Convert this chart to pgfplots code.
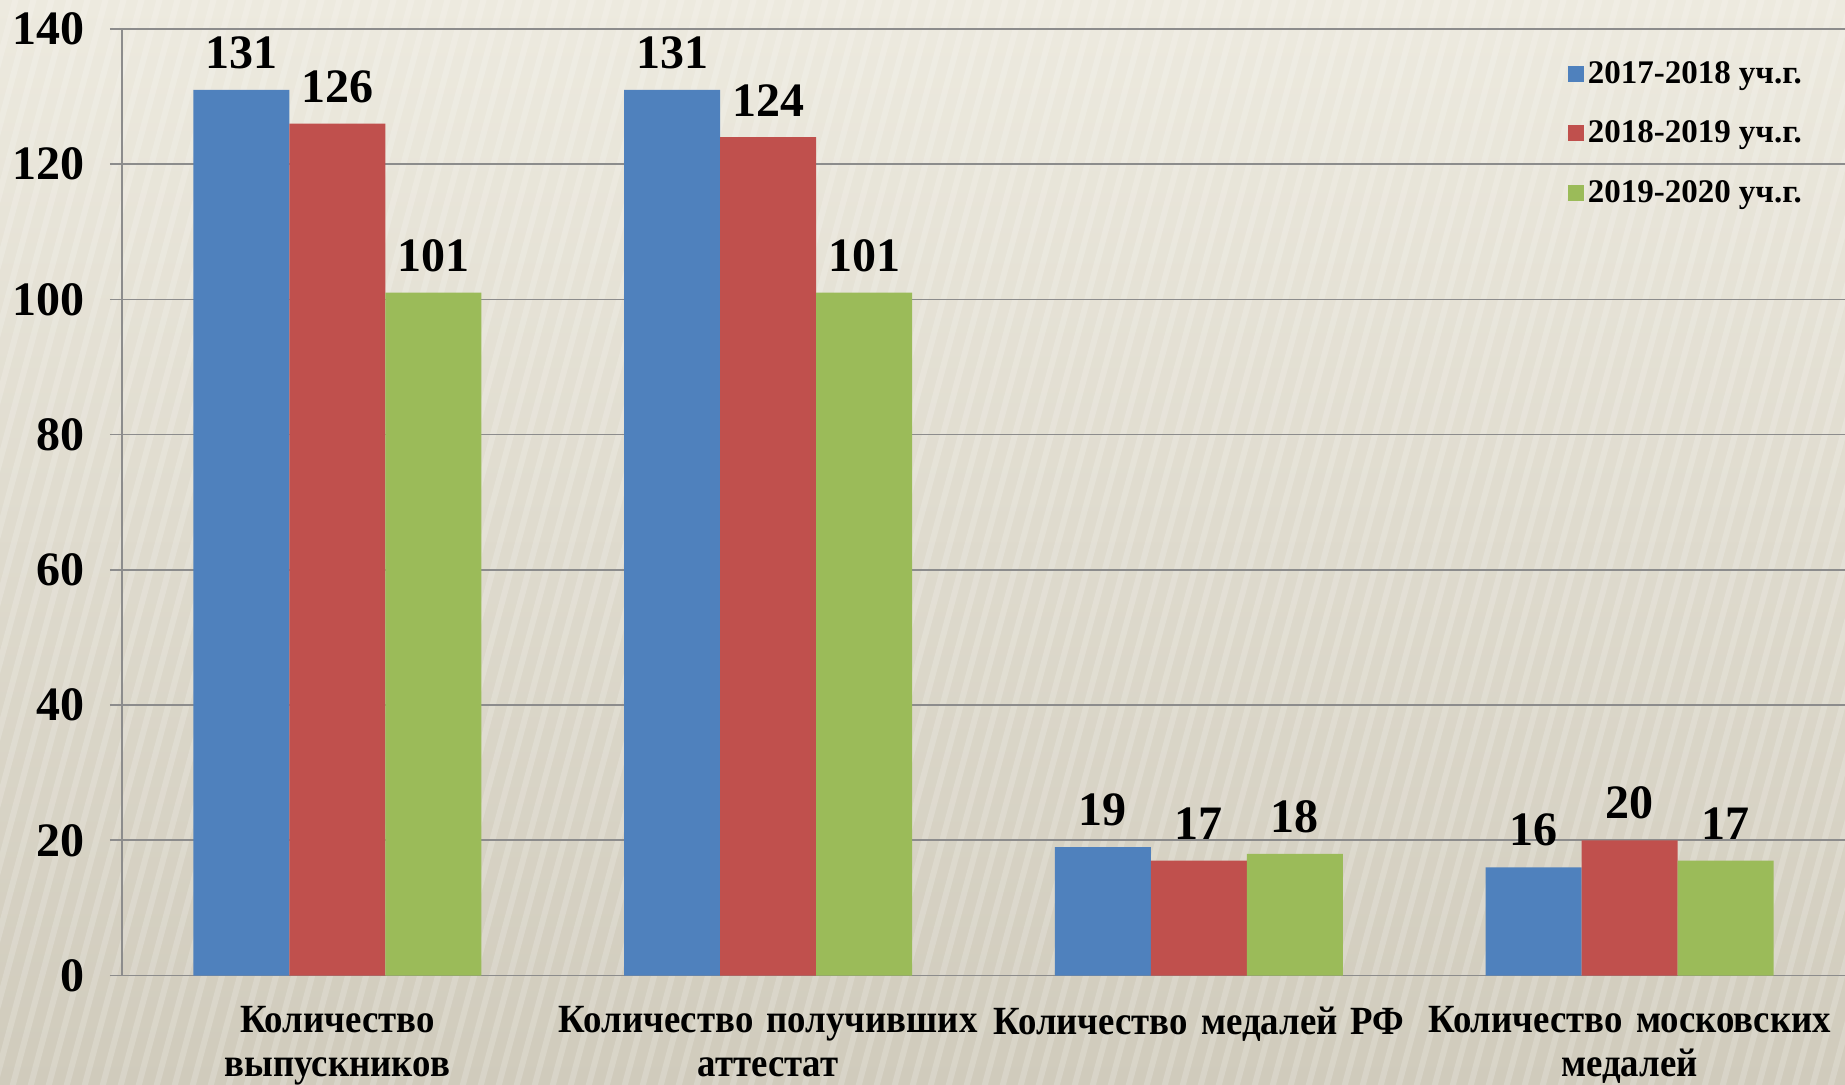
\documentclass[border=0pt]{standalone}
\usepackage{pgfplots}
\pgfplotsset{compat=1.18}
\usepackage{fontspec}
\setmainfont{Liberation Serif}
\newfontfamily\narrowfont[FakeStretch=0.92]{Liberation Serif}
\definecolor{sBlue}{HTML}{4F81BD}
\definecolor{sRed}{HTML}{C0504D}
\definecolor{sGreen}{HTML}{9BBB59}
\definecolor{bgTop}{RGB}{237,234,223}
\definecolor{bgBot}{RGB}{208,203,188}
\definecolor{gridgray}{RGB}{140,140,140}

\pgfplotstableread{
x  a   b   c
0  131 126 101
1  131 124 101
2  19  17  18
3  16  20  17
}\medals

\begin{document}
\begin{tikzpicture}
\shade[top color=bgTop,bottom color=bgBot] (-61pt,-54.25pt) rectangle (861.5pt,487.75pt);
% faint diagonal stripes of the slide background
\begin{scope}
\clip (-61pt,-54.25pt) rectangle (861.5pt,487.75pt);
\foreach \i in {0,1,...,130}
  \draw[white,opacity=0.18,line width=3pt] ({-200pt+\i*9pt},-60pt) -- ++(150pt,560pt);
\end{scope}
\begin{axis}[
  at={(0pt,0pt)},anchor=south west,
  scale only axis,width=861.5pt,height=473.25pt,
  ybar=0pt,bar width=48pt,
  xmin=-0.5,xmax=3.5,ymin=0,ymax=140,
  ytick={0,20,...,140},
  xtick={0,1,2,3},
  xticklabels={Количество\\выпускников,Количество получивших\\аттестат,Количество медалей РФ,Количество московских\\медалей},
  extra x ticks={0.5,1.5,2.5},
  extra x tick labels={},
  extra x tick style={major tick length=6pt,tick style={gridgray,line width=0.8pt}},
  axis x line*=bottom,axis y line*=left,
  axis line style={gridgray,line width=0.8pt},
  tick align=outside,
  x tick style={draw=none},
  y tick style={gridgray,line width=0.8pt},
  major tick length=6pt,
  ymajorgrids,major grid style={gridgray,line width=0.8pt},
  /pgf/number format/assume math mode=true,
  yticklabel style={font=\fontsize{24}{24}\selectfont\bfseries,xshift=-9pt},
  xticklabel style={font=\fontsize{20}{22}\selectfont\bfseries\narrowfont,align=center,text width=230pt,yshift=-6pt},
  nodes near coords,
  every node near coord/.append style={font=\fontsize{24}{24}\selectfont\bfseries,text=black,yshift=7pt},
  legend style={draw=none,fill=none,at={(0.981,0.975)},anchor=north east,
    font=\fontsize{16.5}{16.5}\selectfont\bfseries,row sep=13.5pt,
    /tikz/every even column/.append style={column sep=7pt}},
  legend cell align=left,
  legend image code/.code={\fill[#1,draw=none] (0pt,-4pt) rectangle (8pt,4pt);},
]
\addplot[fill=sBlue,draw=none] table[x=x,y=a] {\medals};
\addlegendentry{2017-2018 уч.г.}
\addplot[fill=sRed,draw=none] table[x=x,y=b] {\medals};
\addlegendentry{2018-2019 уч.г.}
\addplot[fill=sGreen,draw=none] table[x=x,y=c] {\medals};
\addlegendentry{2019-2020 уч.г.}
\end{axis}
\pgfresetboundingbox
\useasboundingbox (-61pt,-54.25pt) rectangle (861.5pt,487.75pt);
\end{tikzpicture}
\end{document}
